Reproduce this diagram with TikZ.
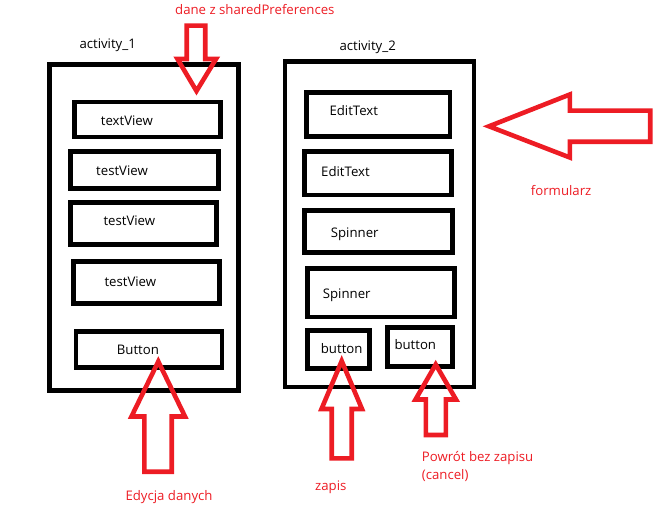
\documentclass[tikz,border=0pt]{standalone}
\usepackage{fontspec}
\setmainfont{Open Sans}
\usetikzlibrary{fit}
\definecolor{pred}{RGB}{237,28,36}
\tikzset{
  box/.style={draw=black, line width=4.5pt, line join=miter, inner sep=0pt},
  lbl/.style={anchor=base west, inner sep=0pt, font=\fontsize{13.2}{16}\selectfont, text=black},
  rlbl/.style={lbl, text=pred},
  bigarrow/.style={draw=pred, line width=4.6pt, line join=miter, miter limit=20}
}
\begin{document}
\begin{tikzpicture}[x=1pt,y=-1pt]
\useasboundingbox (0,0) rectangle (668,526);
% activity 1
\node[box, fit={(49.5,64.5) (238.3,390.5)}] (act1) {};
\node[box, fit={(74.5,102.2) (220.5,137.2)}] (tv1) {};
\node[box, fit={(70.5,151.7) (218.3,188.3)}] (tv2) {};
\node[box, fit={(70.5,202.7) (216.3,244.3)}] (tv3) {};
\node[box, fit={(73.3,261.3) (219.3,303.3)}] (tv4) {};
\node[box, fit={(76.2,331.3) (222.2,367.5)}] (btn1) {};
\node[lbl] (act1t) at (79.3,49) {activity\_1};
\node[lbl] (tv1t) at (100.7,126) {textView};
\node[lbl] (tv2t) at (96,176) {testView};
\node[lbl] (tv3t) at (103.3,226) {testView};
\node[lbl] (tv4t) at (104.3,286.7) {testView};
\node[lbl] (btn1t) at (116.7,354) {Button};
% activity 2
\node[box, fit={(284.8,61.7) (474.2,386.8)}] (act2) {};
\node[box, fit={(306.7,92.7) (450.2,136.3)}] (et1) {};
\node[box, fit={(304.3,151.3) (451.7,195.2)}] (et2) {};
\node[box, fit={(304.3,210.3) (452.5,252.3)}] (sp1) {};
\node[box, fit={(307.5,268.5) (454.5,317.2)}] (sp2) {};
\node[box, fit={(307.7,330.7) (369.3,368.3)}] (b1) {};
\node[box, fit={(387.5,327.5) (452.3,366.3)}] (b2) {};
\node[lbl] (act2t) at (339.3,51) {activity\_2};
\node[lbl] (et1t) at (329.3,116) {EditText};
\node[lbl] (et2t) at (321,176.7) {EditText};
\node[lbl] (sp1t) at (330.7,237.5) {Spinner};
\node[lbl] (sp2t) at (322.7,298.5) {Spinner};
\node[lbl] (b1t) at (320.7,353.3) {button};
\node[lbl] (b2t) at (394.3,349.3) {button};
% red labels
\node[rlbl] (dane) at (175,15) {dane z sharedPreferences};
\node[rlbl] (form) at (530.7,195.7) {formularz};
\node[rlbl] (edyc) at (125.3,500) {Edycja danych};
\node[rlbl] (zap) at (315,490.5) {zapis};
\node[rlbl] (canc) at (421.7,461.7) {Powrót bez zapisu};
\node[rlbl] (canc2) at (421.7,479) {(cancel)};
% red block arrows
\draw[bigarrow] (186.7,25.7) -- (205.2,25.7) -- (205.2,59) -- (216,59) -- (196.5,91) -- (177.5,59) -- (186.7,59) -- cycle;
\draw[bigarrow] (489,126.3) -- (569.8,94.5) -- (569.8,110.7) -- (650.2,110.7) -- (650.2,141.8) -- (569.8,141.8) -- (569.8,157.5) -- cycle;
\draw[bigarrow] (158.3,361.5) -- (185,416.5) -- (171.7,416.5) -- (171.7,471.7) -- (144.3,471.7) -- (144.3,416.5) -- (131.5,416.5) -- cycle;
\draw[bigarrow] (341.7,361) -- (362,409) -- (351.7,409) -- (351.7,458.3) -- (331.7,458.3) -- (331.7,409) -- (321.5,409) -- cycle;
\draw[bigarrow] (435.7,364.5) -- (456,399.5) -- (445.8,399.5) -- (445.8,435) -- (425.8,435) -- (425.8,399.5) -- (415.5,399.5) -- cycle;
\end{tikzpicture}
\end{document}
